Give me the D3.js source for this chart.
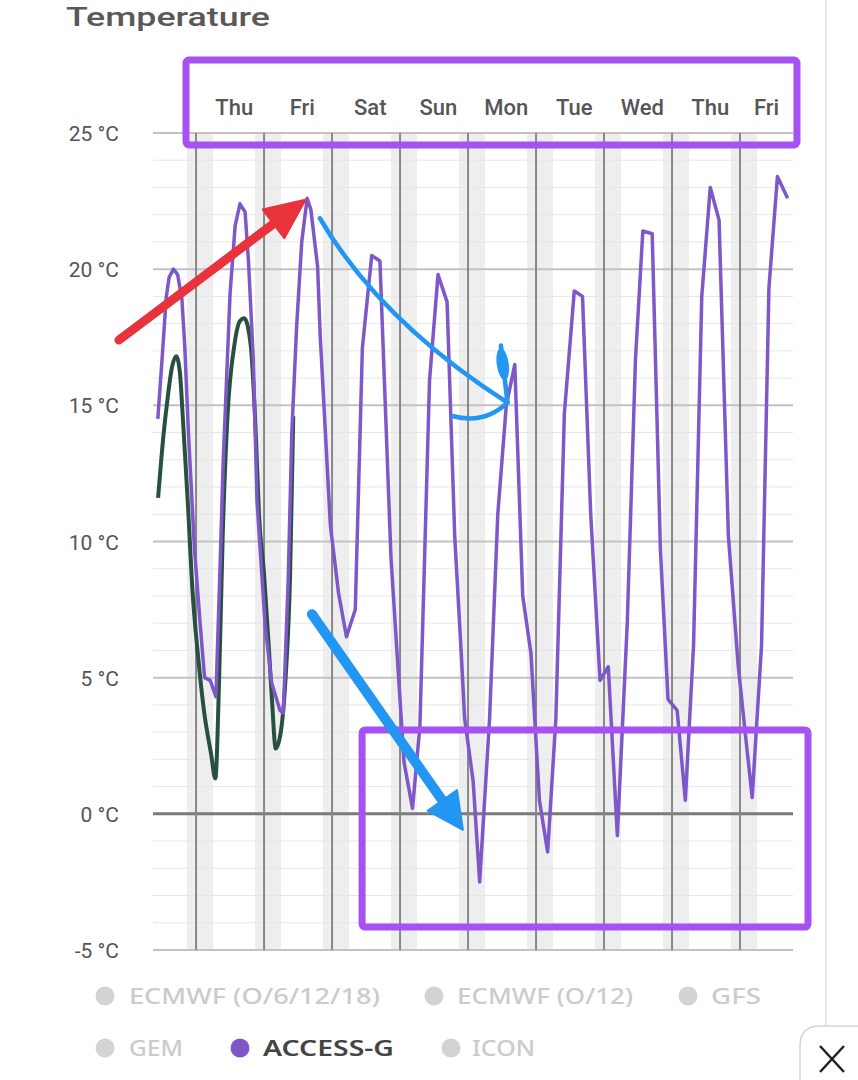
<!DOCTYPE html>
<html>
<head>
<meta charset="utf-8">
<script src="https://cdn.jsdelivr.net/npm/d3@7"></script>
<style>
  html, body { margin: 0; padding: 0; background: #fff; }
  svg { display: block; }
</style>
</head>
<body>
<svg id="chart" width="858" height="1080"></svg>
<script>
// ---------------- DATA ----------------
// hours relative to Thursday 00:00
const accessHours = [-13.5, -12, -10.5, -9.5, -8, -6.5, -5, -4, -2.7, -0.6, 1.5, 3, 5, 7, 8.3, 9.6, 12, 13.8, 15.5, 17.3, 18.5, 20.2, 21.5, 24.4, 26.7, 29.6, 30.8, 32.5, 33.8, 35.5, 37.3, 39.2, 40.5, 42.9, 43.8, 47.4, 50.3, 53.1, 56.2, 58.7, 62.0, 64.9, 68.8, 73.4, 76.4, 79.0, 82.4, 85.4, 88.6, 91.3, 93.7, 94.8, 97.8, 100.1, 103.6, 106.5, 109.5, 112.5, 115.3, 118.2, 121.2, 124.1, 127.0, 130.0, 133.5, 136.4, 139.3, 142.6, 145.5, 148.7, 152.2, 155.1, 157.7, 161.0, 163.9, 166.6, 169.8, 172.7, 175.6, 178.5, 181.5, 184.6, 187.9, 191.4, 193.8, 196.3, 199.6, 202.2, 205.2, 208.8];
const accessTemps = [14.5, 16.7, 19.0, 19.7, 20.0, 19.8, 18.9, 17.2, 14.0, 9.8, 6.9, 5.0, 4.9, 4.3, 8.5, 13.0, 19.1, 21.6, 22.4, 22.1, 20.3, 16.7, 11.5, 6.9, 4.8, 3.8, 3.7, 8.5, 14.0, 17.9, 21.0, 22.6, 22.2, 20.1, 17.6, 10.6, 8.1, 6.5, 7.5, 17.1, 20.5, 20.3, 9.4, 1.9, 0.2, 3.2, 15.9, 19.8, 18.8, 10.2, 5.7, 3.5, 1.2, -2.5, 3.5, 11.0, 15.0, 16.5, 8.0, 5.9, 0.5, -1.4, 3.5, 14.7, 19.2, 19.0, 11.0, 4.9, 5.4, -0.8, 7.0, 16.7, 21.4, 21.3, 9.7, 4.2, 3.8, 0.5, 6.2, 19.0, 23.0, 21.8, 10.2, 5.4, 3.0, 0.6, 6.2, 19.3, 23.4, 22.6];

const greenHours = [-13.4, -11.5, -10, -8.5, -7.0, -5.7, -4.7, -2.9, -1.2, 0.6, 2.9, 5.3, 6.8, 8.2, 9.4, 11.1, 13.5, 15.5, 17.0, 19.3, 21.1, 22.2, 24.0, 25.8, 26.9, 28.1, 29.9, 31.6, 33.2, 34.3];
const greenTemps = [11.6, 13.9, 15.3, 16.4, 16.8, 16.2, 14.6, 11.4, 8.1, 5.9, 3.7, 2.2, 1.3, 5.2, 10.2, 14.6, 17.2, 18.1, 18.2, 17.2, 13.9, 11.0, 8.8, 5.9, 4.0, 2.4, 3.0, 5.0, 8.8, 14.6];

const dayLabels = ["Thu", "Fri", "Sat", "Sun", "Mon", "Tue", "Wed", "Thu", "Fri"];
const yTicks = [-5, 0, 5, 10, 15, 20, 25];
const legendRow1 = ["ECMWF (O/6/12/18)", "ECMWF (O/12)", "GFS"];
const legendRow2 = ["GEM", "ACCESS-G", "ICON"];
const activeModel = "ACCESS-G";

// ---------------- SCALES ----------------
const svg = d3.select("#chart");
const x = d3.scaleLinear().domain([-15.2, 210.7]).range([153, 793]);
const y = d3.scaleLinear().domain([-5, 25]).range([950, 133]);
const P = (h, t) => [x(h), y(t)];

// ---------------- BACKGROUND ----------------
const bands = svg.append("g");
dayLabels.forEach((d, i) => {
  const x0 = Math.max(x(24 * i - 3.2), x.range()[0]);
  const x1 = Math.min(x(24 * i + 6), x.range()[1]);
  bands.append("rect").attr("x", x0).attr("y", y(25)).attr("width", x1 - x0)
    .attr("height", y(-5) - y(25)).attr("fill", "#eeeeee");
});

const minor = d3.range(-4, 25).filter(v => v % 5 !== 0);
svg.append("g").selectAll("line").data(minor).join("line")
  .attr("x1", x.range()[0]).attr("x2", x.range()[1])
  .attr("y1", d => y(d)).attr("y2", d => y(d))
  .attr("stroke", "#e6e6e6").attr("stroke-width", 1);

svg.append("g").selectAll("line").data(yTicks).join("line")
  .attr("x1", x.range()[0]).attr("x2", x.range()[1])
  .attr("y1", d => y(d)).attr("y2", d => y(d))
  .attr("stroke", d => d === 0 ? "#7a7a7a" : "#c2c2c2")
  .attr("stroke-width", d => d === 0 ? 3 : 2);

svg.append("g").selectAll("line").data(dayLabels).join("line")
  .attr("x1", (d, i) => x(24 * i)).attr("x2", (d, i) => x(24 * i))
  .attr("y1", y(25)).attr("y2", y(-5))
  .attr("stroke", "#888").attr("stroke-width", 2);

svg.append("g").selectAll("text").data(yTicks).join("text")
  .attr("x", 119).attr("y", d => y(d) + 8)
  .attr("text-anchor", "end")
  .attr("font-family", "Roboto, sans-serif").attr("font-size", 21)
  .attr("fill", "#555")
  .text(d => d + " °C");

svg.append("g").selectAll("text").data(dayLabels).join("text")
  .attr("x", (d, i) => Math.min(x(24 * i + 13.5), (x(24 * i) + x.range()[1]) / 2))
  .attr("y", 115)
  .attr("text-anchor", "middle")
  .attr("font-family", "Roboto, sans-serif").attr("font-weight", 500).attr("font-size", 22)
  .attr("fill", "#555")
  .text(d => d);

svg.append("text").attr("x", 66).attr("y", 26)
  .attr("font-family", "Roboto, sans-serif").attr("font-weight", 500).attr("font-size", 26)
  .attr("fill", "#595959").attr("textLength", 204).attr("lengthAdjust", "spacingAndGlyphs")
  .text("Temperature");

// ---------------- LINES ----------------
const greenData = greenHours.map((h, i) => [h, greenTemps[i]]);
const accessData = accessHours.map((h, i) => [h, accessTemps[i]]);

svg.append("path").datum(greenData)
  .attr("fill", "none").attr("stroke", "#27503f").attr("stroke-width", 4)
  .attr("stroke-linejoin", "round")
  .attr("d", d3.line().x(d => x(d[0])).y(d => y(d[1])).curve(d3.curveMonotoneX));

svg.append("path").datum(accessData)
  .attr("fill", "none").attr("stroke", "#7e57c9").attr("stroke-width", 3.5)
  .attr("stroke-linejoin", "round")
  .attr("d", d3.line().x(d => x(d[0])).y(d => y(d[1])));

// ---------------- LEGEND ----------------
const legendWidths1 = [251, 176, 50];
const legendWidths2 = [54, 131, 63];
const legendX1 = [[105, 129], [434, 457], [688, 711]];
const legendX2 = [[105, 129], [240, 263], [451, 472]];
function legendRow(names, pos, widths, cy) {
  names.forEach((n, i) => {
    const active = n === activeModel;
    svg.append("circle").attr("cx", pos[i][0]).attr("cy", cy).attr("r", 9.5)
      .attr("fill", active ? "#7e57c9" : "#d3d3d3");
    svg.append("text").attr("x", pos[i][1]).attr("y", cy + 8)
      .attr("font-family", "'Noto Sans', sans-serif").attr("font-size", 21)
      .attr("font-weight", active ? 600 : 500)
      .attr("fill", active ? "#444" : "#cbcbcb")
      .attr("textLength", widths[i]).attr("lengthAdjust", "spacingAndGlyphs")
      .text(n);
  });
}
legendRow(legendRow1, legendX1, legendWidths1, 996);
legendRow(legendRow2, legendX2, legendWidths2, 1048);

svg.append("line").attr("x1", 826).attr("x2", 826).attr("y1", 0).attr("y2", 1026)
  .attr("stroke", "#e2e2e2").attr("stroke-width", 1.5);
svg.append("path").attr("d", "M800,1082 L800,1046 Q800,1026 820,1026 L860,1026")
  .attr("fill", "#fff").attr("stroke", "#d4d4d4").attr("stroke-width", 1.5);
svg.append("path").attr("d", "M820,1046 L844,1072 M844,1046 L820,1072")
  .attr("stroke", "#222").attr("stroke-width", 2.5).attr("fill", "none");

// ---------------- ANNOTATIONS (in data coordinates) ----------------
const ann = svg.append("g");
const boxColor = "#a651f3";
function box(h0, h1, t0, t1) {
  const [xa, ya] = P(h0, t0), [xb, yb] = P(h1, t1);
  ann.append("rect").attr("x", xa).attr("y", ya).attr("width", xb - xa).attr("height", yb - ya)
    .attr("rx", 3).attr("fill", "none").attr("stroke", boxColor).attr("stroke-width", 7);
}
box(-3.55, 212.1, 27.68, 24.56);
box(58.6, 216.0, 3.08, -4.16);

function arrow(from, to, w, headLen, headW, color) {
  const [x0, y0] = P(from[0], from[1]), [x1, y1] = P(to[0], to[1]);
  const dx = x1 - x0, dy = y1 - y0, L = Math.hypot(dx, dy);
  const ux = dx / L, uy = dy / L, px = -uy, py = ux;
  const bx = x1 - ux * headLen, by = y1 - uy * headLen;
  ann.append("line").attr("x1", x0).attr("y1", y0).attr("x2", bx + ux * 4).attr("y2", by + uy * 4)
    .attr("stroke", color).attr("stroke-width", w).attr("stroke-linecap", "round");
  ann.append("path").attr("d", `M${x1},${y1} L${bx + px * headW / 2},${by + py * headW / 2} L${bx - px * headW / 2},${by - py * headW / 2} Z`)
    .attr("fill", color).attr("stroke", color).attr("stroke-width", 2).attr("stroke-linejoin", "round");
}
arrow([-27.2, 17.4], [38.6, 22.55], 9, 40, 36, "#e8323c");
arrow([40.9, 7.33], [94.2, -0.59], 10, 36, 36, "#2196f3");

{
  const s = P(43.7, 21.87), c = P(64.9, 18.1), e = P(109.9, 15.1);
  ann.append("path").attr("d", `M${s[0]},${s[1]} Q${c[0]},${c[1]} ${e[0]},${e[1]}`)
    .attr("fill", "none").attr("stroke", "#2196f3").attr("stroke-width", 4.5).attr("stroke-linecap", "round");
  const h0 = P(90.8, 14.6), hc = P(101.8, 14.3);
  ann.append("path").attr("d", `M${h0[0]},${h0[1]} Q${hc[0]},${hc[1]} ${e[0]},${e[1]}`)
    .attr("fill", "none").attr("stroke", "#2196f3").attr("stroke-width", 4.5).attr("stroke-linecap", "round");
  const t0 = P(107.6, 17.2), t1 = P(108.6, 16.0);
  ann.append("path").attr("d", `M${t0[0]},${t0[1]} L${e[0]},${e[1]}`)
    .attr("fill", "none").attr("stroke", "#2196f3").attr("stroke-width", 4.5).attr("stroke-linecap", "round");
  ann.append("ellipse").attr("cx", t1[0] - 1).attr("cy", t1[1] - 14).attr("rx", 6).attr("ry", 16)
    .attr("transform", `rotate(-8, ${t1[0] - 1}, ${t1[1] - 14})`)
    .attr("fill", "#2196f3");
}
</script>
</body>
</html>
